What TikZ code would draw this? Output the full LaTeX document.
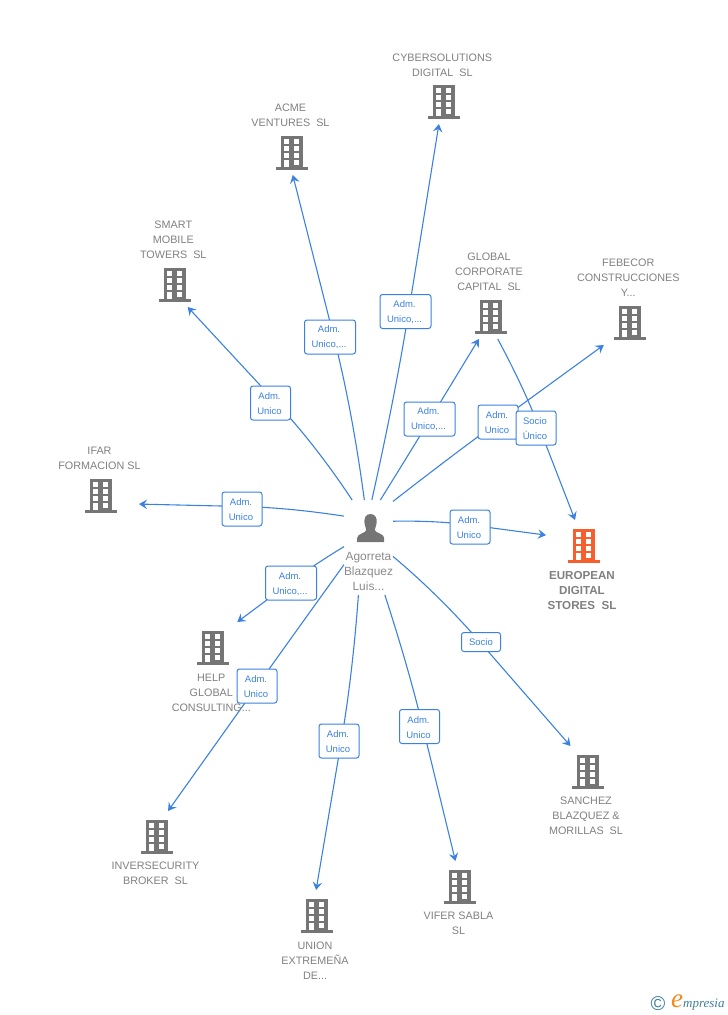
\documentclass[tikz,border=0pt]{standalone}
\usepackage{fontspec}
\setmainfont{Liberation Sans}
\newfontfamily\logofont{Liberation Serif}
\usetikzlibrary{arrows.meta,calc}
\pgfdeclarelayer{below}
\pgfsetlayers{below,main}
\definecolor{linkblue}{HTML}{3B82E0}
\definecolor{icongray}{HTML}{757575}
\definecolor{textgray}{HTML}{808080}
\definecolor{hotorange}{HTML}{F7602E}
\definecolor{logoteal}{HTML}{3E7F99}
\definecolor{logoorange}{HTML}{F08A1D}
\tikzset{
  x=1pt,y=-1pt,
  hub/.style={minimum width=49pt,minimum height=95pt,inner sep=0pt,outer sep=0pt},
  upperbox/.style={minimum width=76pt,minimum height=44pt,inner sep=0pt,outer sep=0pt},
  lowerbox/.style={minimum width=76pt,minimum height=52pt,inner sep=0pt,outer sep=0pt},
  caption/.style={text=textgray,align=center,font=\fontsize{10.8pt}{15pt}\selectfont,inner sep=0pt},
  maincaption/.style={text=textgray,align=center,font=\fontsize{11.6pt}{15pt}\selectfont\bfseries,inner sep=0pt},
  tag/.style={draw=linkblue,fill=white,line width=1pt,rounded corners=2.5pt,text=linkblue,align=center,
    font=\fontsize{9.5pt}{15pt}\selectfont,inner sep=0pt,minimum height=34pt},
  tagwide/.style={tag,minimum width=51pt},
  tagnarrow/.style={tag,minimum width=40pt},
  tagflat/.style={tag,minimum width=39pt,minimum height=19pt},
  conn/.style={draw=linkblue,line width=1.1pt,-{Stealth[length=8pt,width=9.5pt,inset=3pt]}}
}
% two-line tag text, nudged as in the reference
\newcommand{\tl}[2]{\rule{0pt}{8.2pt}#1\hspace*{2pt}\\#2\hspace*{2pt}}
% building icon centred at (#1,#2)
\newcommand{\tower}[3]{%
  \begin{scope}[shift={(#1,#2)}]
    \fill[#3] (-11,-17) rectangle (11,15);
    \fill[#3] (-16,14) rectangle (16,17);
    \foreach \wy in {-13.7,-6.7,0}{
      \fill[white] (-7.8,\wy) rectangle (-2.8,\wy+5);
      \fill[white] (2.2,\wy) rectangle (7.2,\wy+5);
    }
    \fill[white] (-7.8,7) rectangle (-2.8,14);
    \fill[white] (2.2,7) rectangle (7.2,11.5);
  \end{scope}}
% curved from #1 to the point #2 under a tag, then straight on to #3
\newcommand{\link}[3]{%
  \coordinate (thru) at (#2);
  \coordinate (bendc) at ($(thru)!-0.45!(#3)$);
  \draw[conn] (#1) .. controls ($(#1)!0.667!(bendc)$) and ($(thru)!0.667!(bendc)$) .. (thru) -- (#3);}
\begin{document}
\begin{tikzpicture}
\useasboundingbox (0,0) rectangle (728,1015);

% hub: person
\node[hub] (hub) at (368.5,547.5) {};
\fill[icongray] (370.5,514) .. controls (365.5,514) and (364.2,518.5) .. (364.4,522)
  .. controls (364.6,526) and (366.2,528) .. (366.2,530)
  .. controls (366.2,533) and (357.2,533.5) .. (357.2,538) -- (357.2,542) -- (384.2,542) -- (384.2,538)
  .. controls (384.2,533.5) and (374.8,533) .. (374.8,530)
  .. controls (374.8,528) and (376.5,526) .. (376.7,522)
  .. controls (376.9,518.5) and (375.5,514) .. (370.5,514) -- cycle;
\node[caption,text=icongray!85,font=\fontsize{11.9pt}{15pt}\selectfont] (hubtext) at (368.5,571) {Agorreta\\Blazquez\\Luis...};

% company nodes
\node[upperbox] (cyber) at (444,102) {};   \tower{444}{102}{icongray}
\node[upperbox] (acme) at (292,153) {};    \tower{292}{153}{icongray}
\node[upperbox] (smart) at (175,285) {};   \tower{175}{285}{icongray}
\node[upperbox] (global) at (491,317) {};  \tower{491}{317}{icongray}
\node[upperbox] (febecor) at (630,323) {}; \tower{630}{323}{icongray}
\node[upperbox] (ifar) at (101,496) {};    \tower{101}{496}{icongray}
\node[lowerbox] (euro) at (584,546) {};    \tower{584}{546}{hotorange}
\node[lowerbox] (help) at (213,648) {};    \tower{213}{648}{icongray}
\node[lowerbox] (inverse) at (157,837) {}; \tower{157}{837}{icongray}
\node[lowerbox] (union) at (317,916) {};   \tower{317}{916}{icongray}
\node[lowerbox] (vifer) at (460,887) {};   \tower{460}{887}{icongray}
\node[lowerbox] (sanchez) at (588,772) {}; \tower{588}{772}{icongray}

% company captions
\node[caption] (cybertext) at (442.3,65) {CYBERSOLUTIONS\\DIGITAL~~SL};
\node[caption] (acmetext) at (290.5,115) {ACME\\VENTURES~~SL};
\node[caption] (smarttext) at (173.3,239.5) {SMART\\MOBILE\\TOWERS~~SL};
\node[caption] (globaltext) at (489,271.5) {GLOBAL\\CORPORATE\\CAPITAL~~SL};
\node[caption] (febecortext) at (628.3,278) {FEBECOR\\CONSTRUCCIONES\\Y...};
\node[caption] (ifartext) at (99.5,458) {IFAR\\FORMACION SL};
\node[maincaption] (eurotext) at (582,590) {EUROPEAN\\DIGITAL\\STORES~~SL};
\node[caption] (helptext) at (211.3,692.5) {HELP\\GLOBAL\\CONSULTING...};
\node[caption] (inversetext) at (155.5,873.5) {INVERSECURITY\\BROKER~~SL};
\node[caption] (uniontext) at (315,960.5) {UNION\\EXTREMEÑA\\DE...};
\node[caption] (vifertext) at (458.5,923.5) {VIFER SABLA\\SL};
\node[caption] (sancheztext) at (586,816) {SANCHEZ\\BLAZQUEZ \&\\MORILLAS~~SL};

% tags
\node[tagwide] (tacme) at (330,337) {\tl{Adm.}{Unico,...}};
\node[tagwide] (tcyber) at (405.5,311.5) {\tl{Adm.}{Unico,...}};
\node[tagnarrow] (tsmart) at (270.5,403) {\tl{Adm.}{Unico}};
\node[tagwide] (tglobal) at (429.5,419) {\tl{Adm.}{Unico,...}};
\node[tagnarrow] (tfebecor) at (498,422) {\tl{Adm.}{Unico}};
\node[tagnarrow] (tsocio) at (536,428) {\tl{Socio}{Único}};
\node[tagnarrow] (tifar) at (242,509) {\tl{Adm.}{Unico}};
\node[tagnarrow] (teuro) at (470,527) {\tl{Adm.}{Unico}};
\node[tagwide] (thelp) at (291,583) {\tl{Adm.}{Unico,...}};
\node[tagnarrow] (tinverse) at (257,686) {\tl{Adm.}{Unico}};
\node[tagnarrow] (tunion) at (339,741) {\tl{Adm.}{Unico}};
\node[tagnarrow] (tvifer) at (419.5,726.5) {\tl{Adm.}{Unico}};
\node[tagflat] (tsanchez) at (481,642) {Socio};

% connectors
\begin{pgfonlayer}{below}
\link{hub.95.05}{333.8,337}{acme.272.5}
\link{hub.86.1}{408.7,311.5}{cyber.257}
\link{hub.109.5}{276.6,403}{smart.300.5}
\link{hub.76.4}{430.2,419}{global.241.4}
\link{hub.62.2}{498,422}{febecor.220.2}
\link{global.287}{539.4,428}{euro.109}
\link{hub.128.8}{242,506.5}{ifar.348.1}
\link{hub.47.2}{470,525}{euro.164.9}
\link{hub.178.8}{291,582}{help.47.3}
\link{hub.215.5}{257,686}{inverse.67}
\link{hub.258.7}{341.3,741}{union.92.2}
\link{hub.289.2}{422.7,726.5}{vifer.100.9}
\link{hub.340.9}{479.9,642}{sanchez.124.7}
\end{pgfonlayer}

% logo
\node[text=logoteal,font=\fontsize{20pt}{20pt}\selectfont,inner sep=0pt] (logoc) at (658,1004) {©};
\node[text=logoorange,font=\logofont\itshape\fontsize{27pt}{27pt}\selectfont,inner sep=0pt] (logoe) at (677,1001) {e};
\node[text=logoteal,font=\logofont\itshape\fontsize{13pt}{13pt}\selectfont,inner sep=0pt,anchor=west] (logot) at (683,1005) {mpresia};
\end{tikzpicture}
\end{document}
